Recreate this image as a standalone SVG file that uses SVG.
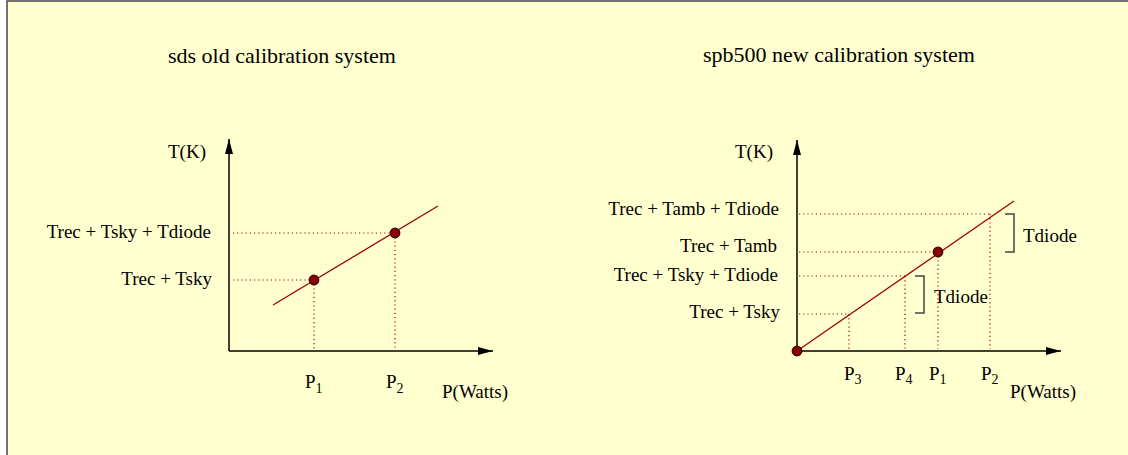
<svg xmlns="http://www.w3.org/2000/svg" width="1128" height="455" viewBox="0 0 1128 455">
<style>
text{font-family:"Liberation Serif","Times New Roman",serif;fill:#000}
.t{font-size:19px}
.title{font-size:22px}
.sub{font-size:14px}
.axis{stroke:#000;stroke-width:1.5;fill:none}
.fit{stroke:#a00000;stroke-width:1.3;fill:none}
.dot{stroke:#b00000;stroke-width:1.2;stroke-dasharray:1.2 3;fill:none}
.pt{fill:#8b0000;stroke:#3a0000;stroke-width:1.2}
.br{stroke:#444;stroke-width:1.5;fill:none}
</style>
<defs>
<marker id="ah" markerWidth="15" markerHeight="8" refX="15" refY="4" orient="auto" markerUnits="userSpaceOnUse">
<path d="M0,0 L15,4 L0,8 Z" fill="#000"/>
</marker>
</defs>
<rect x="7" y="1" width="1130" height="470" fill="#ffffd0" stroke="#444" stroke-width="1.5"/>

<g id="left-plot">
<text class="title" x="168" y="63">sds old calibration system</text>
<text class="t" x="168" y="158">T(K)</text>
<text class="t" x="211" y="238" text-anchor="end">Trec + Tsky + Tdiode</text>
<text class="t" x="212" y="285" text-anchor="end">Trec + Tsky</text>
<text class="t" x="305" y="388">P<tspan class="sub" dy="5">1</tspan></text>
<text class="t" x="386" y="388">P<tspan class="sub" dy="5">2</tspan></text>
<text class="t" x="442" y="398">P(Watts)</text>
</g>

<g id="right-plot">
<text class="title" x="703" y="62">spb500 new calibration system</text>
<text class="t" x="735" y="158">T(K)</text>
<text class="t" x="779" y="215" text-anchor="end">Trec + Tamb + Tdiode</text>
<text class="t" x="777" y="252" text-anchor="end">Trec + Tamb</text>
<text class="t" x="778" y="281" text-anchor="end">Trec + Tsky + Tdiode</text>
<text class="t" x="780" y="318" text-anchor="end">Trec + Tsky</text>
<text class="t" x="844" y="380">P<tspan class="sub" dy="4">3</tspan></text>
<text class="t" x="895" y="380">P<tspan class="sub" dy="4">4</tspan></text>
<text class="t" x="929" y="380">P<tspan class="sub" dy="4">1</tspan></text>
<text class="t" x="981" y="380">P<tspan class="sub" dy="4">2</tspan></text>
<text class="t" x="1010" y="398">P(Watts)</text>
<text class="t" x="1023" y="242">Tdiode</text>
<text class="t" x="934" y="303">Tdiode</text>
</g>

<g id="connectors">
<!-- left axes -->
<line class="axis" x1="229" y1="351" x2="229" y2="139" marker-end="url(#ah)"/>
<line class="axis" x1="229" y1="351" x2="493" y2="351" marker-end="url(#ah)"/>
<!-- left dotted -->
<line class="dot" x1="233" y1="233" x2="395" y2="233"/>
<line class="dot" x1="233" y1="280" x2="314" y2="280"/>
<line class="dot" x1="314" y1="280" x2="314" y2="349"/>
<line class="dot" x1="395" y1="233" x2="395" y2="349"/>
<!-- left fit -->
<line class="fit" x1="273" y1="305" x2="438" y2="206"/>

<!-- right axes -->
<line class="axis" x1="797" y1="351" x2="797" y2="140" marker-end="url(#ah)"/>
<line class="axis" x1="797" y1="351" x2="1061" y2="351" marker-end="url(#ah)"/>
<!-- right dotted -->
<line class="dot" x1="799" y1="214" x2="991" y2="214"/>
<line class="dot" x1="799" y1="252" x2="938" y2="252"/>
<line class="dot" x1="799" y1="276" x2="905" y2="276"/>
<line class="dot" x1="799" y1="314" x2="849" y2="314"/>
<line class="dot" x1="849" y1="314" x2="849" y2="349"/>
<line class="dot" x1="905" y1="276" x2="905" y2="349"/>
<line class="dot" x1="938" y1="252" x2="938" y2="349"/>
<line class="dot" x1="990" y1="214" x2="990" y2="349"/>
<!-- right fit -->
<line class="fit" x1="797" y1="351" x2="1014" y2="201"/>
<!-- brackets -->
<path class="br" d="M1005,214 H1014 V252 H1005"/>
<path class="br" d="M915,276 H924 V313 H915"/>
</g>

<g id="points">
<circle class="pt" cx="314" cy="280" r="4.8"/>
<circle class="pt" cx="395" cy="233" r="4.8"/>
<circle class="pt" cx="938" cy="252" r="4.8"/>
<circle class="pt" cx="797" cy="351" r="4.8"/>
</g>
</svg>
